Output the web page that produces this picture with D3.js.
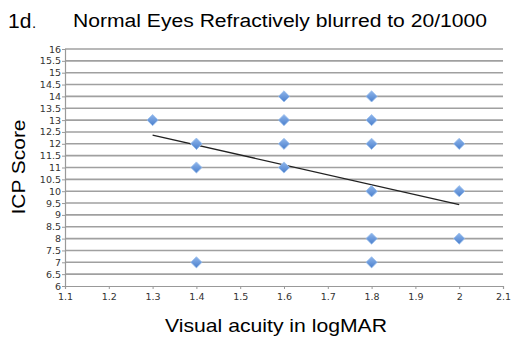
<!DOCTYPE html>
<html><head><meta charset="utf-8">
<script src="https://cdn.jsdelivr.net/npm/d3@7"></script>
<style>body{margin:0;background:#fff}svg{display:block}text{font-family:"Liberation Sans",Arial,sans-serif}</style>
</head><body>
<script>
const xVals = [1.3, 1.4, 1.4, 1.4, 1.4, 1.6, 1.6, 1.6, 1.6, 1.8, 1.8, 1.8, 1.8, 1.8, 1.8, 1.8, 2.0, 2.0, 2.0];
const yVals = [13, 12, 12, 11, 7, 14, 13, 12, 11, 14, 13, 12, 10, 10, 8, 7, 12, 10, 8];
const trendX = [1.3, 2.0];
const trendY = [12.37, 9.43];
const xTicks = [1.1,1.2,1.3,1.4,1.5,1.6,1.7,1.8,1.9,2,2.1];
const yTicks = [6,6.5,7,7.5,8,8.5,9,9.5,10,10.5,11,11.5,12,12.5,13,13.5,14,14.5,15,15.5,16];

const W=521,H=358;
const svg=d3.select("body").append("svg").attr("width",W).attr("height",H);
const defs=svg.append("defs");
const g=defs.append("linearGradient").attr("id","dg").attr("x1",0).attr("y1",0).attr("x2",0).attr("y2",1);
g.append("stop").attr("offset","0%").attr("stop-color","#8fb6ec");
g.append("stop").attr("offset","100%").attr("stop-color","#4a7fcc");

const x=d3.scaleLinear().domain([1.1,2.1]).range([65,503]);
const y=d3.scaleLinear().domain([6,16]).range([286,49]);

// gridlines
svg.append("g").selectAll("line").data(yTicks.filter(d=>d>6)).join("line")
  .attr("x1",65).attr("x2",503).attr("y1",d=>y(d)).attr("y2",d=>y(d))
  .attr("stroke","#a0a0a0").attr("stroke-width",1.6);

// axes
const ya=svg.append("g").attr("transform","translate(65,0)")
  .call(d3.axisLeft(y).tickValues(yTicks).tickSize(3).tickFormat(d=>d));
const xa=svg.append("g").attr("transform","translate(0,286)")
  .call(d3.axisBottom(x).tickValues(xTicks).tickSize(3).tickFormat(d=>d));
[ya,xa].forEach(a=>{
  a.select(".domain").attr("stroke","#999").attr("stroke-width",1.2);
  a.selectAll(".tick line").attr("stroke","#999");
  a.selectAll("text").attr("fill","#333").style("font-size","9.5px").style("font-family","'DejaVu Sans',sans-serif");
});
ya.selectAll("text").attr("x",-4);
xa.selectAll("text").attr("y",7);

// trend line
svg.append("line")
  .attr("x1",x(trendX[0])).attr("y1",y(trendY[0]))
  .attr("x2",x(trendX[1])).attr("y2",y(trendY[1]))
  .attr("stroke","#222").attr("stroke-width",1.3);

// diamonds
const sym=d3.symbol().type(d3.symbolDiamond2).size(80);
svg.append("g").selectAll("path").data(xVals.map((v,i)=>[v,yVals[i]])).join("path")
  .attr("d",sym).attr("transform",d=>`translate(${x(d[0])},${y(d[1])})`)
  .attr("fill","url(#dg)").attr("stroke","#9cc0ee").attr("stroke-width",0.8);

// titles
svg.append("text").attr("x",8).attr("y",28).style("font-size","21px").text("1d");
svg.append("text").attr("x",32).attr("y",28).style("font-size","15px").text(".");
svg.append("text").attr("x",73).attr("y",27).style("font-size","18px")
  .attr("textLength",414).attr("lengthAdjust","spacingAndGlyphs").text("Normal Eyes Refractively blurred to 20/1000");
svg.append("text").attr("transform","translate(25,167) rotate(-90)").attr("text-anchor","middle")
  .style("font-size","18.5px").attr("textLength",95).attr("lengthAdjust","spacingAndGlyphs").text("ICP Score");
svg.append("text").attr("x",276).attr("y",332).attr("text-anchor","middle")
  .style("font-size","18.5px").attr("textLength",222).attr("lengthAdjust","spacingAndGlyphs").text("Visual acuity in logMAR");
</script>
</body></html>
